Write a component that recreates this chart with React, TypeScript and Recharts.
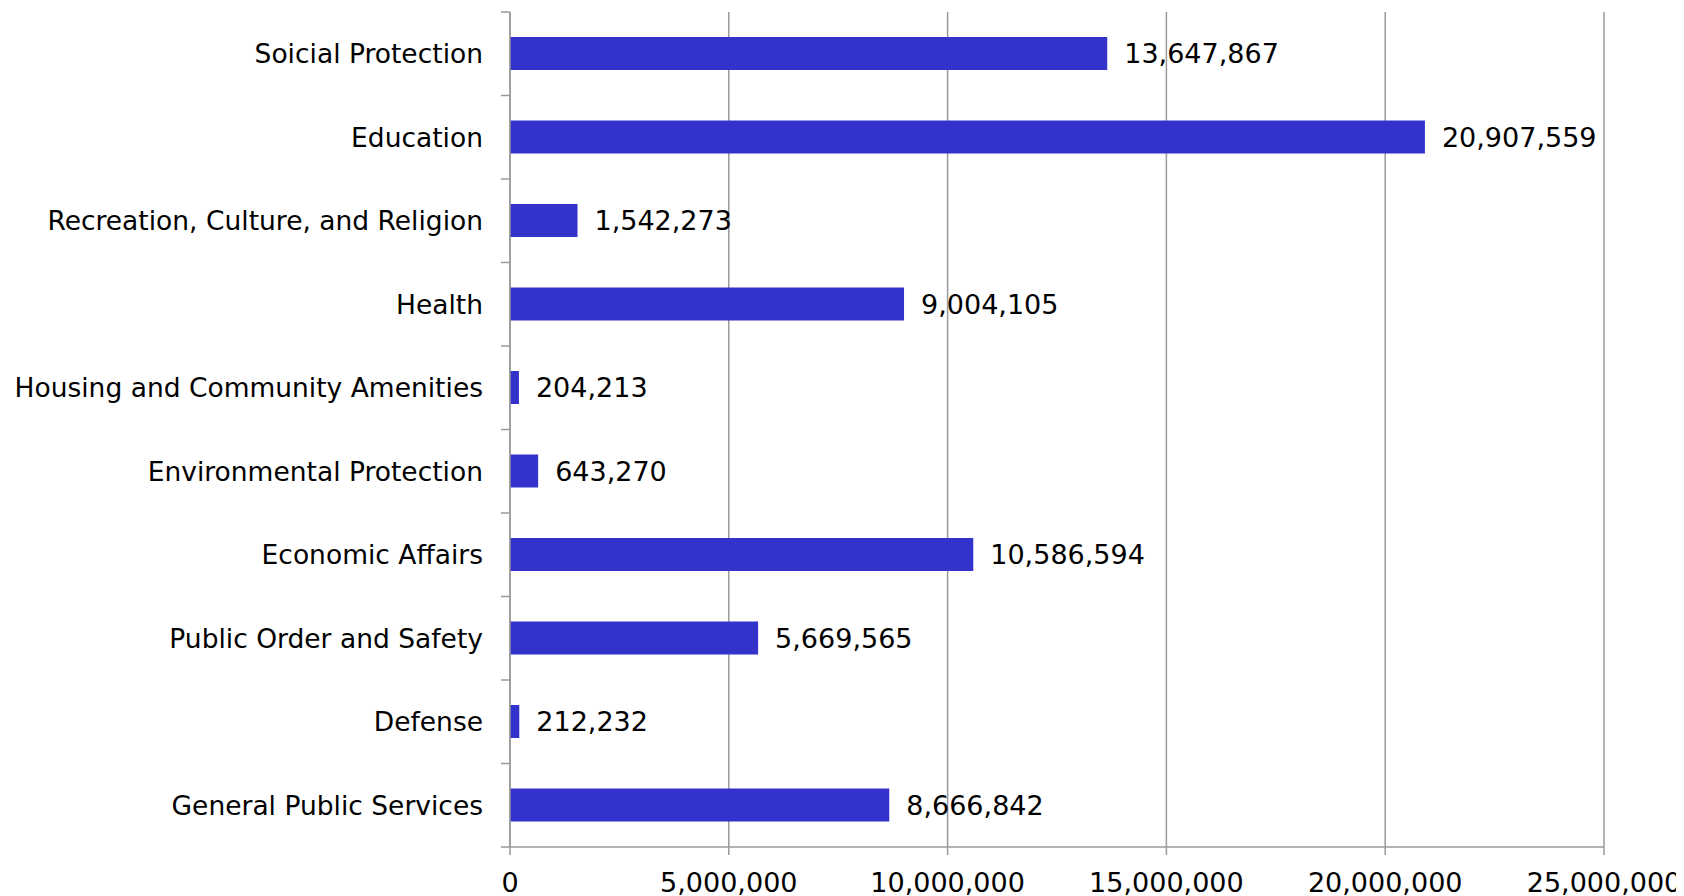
import { BarChart, Bar, XAxis, YAxis, CartesianGrid, LabelList } from "recharts";

const categories = [
  "Soicial Protection",
  "Education",
  "Recreation, Culture, and Religion",
  "Health",
  "Housing and Community Amenities",
  "Environmental Protection",
  "Economic Affairs",
  "Public Order and Safety",
  "Defense",
  "General Public Services",
];

const values = [
  13647867, 20907559, 1542273, 9004105, 204213, 643270, 10586594, 5669565,
  212232, 8666842,
];

const xTicks = [0, 5000000, 10000000, 15000000, 20000000, 25000000];

const data = categories.map((name, i) => ({ name, value: values[i] }));

const fmt = (v: number) => Number(v).toLocaleString("en-US");

const GRAY = "#9a9a9a";
const FONT = 27;

// one-line label plus tick marks on the band edges (payload.offset = half band)
const CategoryTick = (props: any) => {
  const { x, y, payload, index } = props;
  const half = payload.offset || 0;
  return (
    <g>
      <line x1={x - 9} x2={x} y1={y - half} y2={y - half} stroke={GRAY} strokeWidth={1.5} />
      {index === categories.length - 1 && (
        <line x1={x - 9} x2={x} y1={y + half} y2={y + half} stroke={GRAY} strokeWidth={1.5} />
      )}
      <text
        x={x - 27}
        y={y}
        dy="0.355em"
        textAnchor="end"
        fontSize={26.5}
        fill="#000"
      >
        {payload.value}
      </text>
    </g>
  );
};

const App = () => {
  return (
    <div style={{ fontFamily: "'DejaVu Sans', Verdana, sans-serif" }}>
      <BarChart
        width={1676}
        height={888}
        data={data}
        layout="vertical"
        margin={{ top: 4, right: 80, bottom: 9, left: 501 }}
      >
        <CartesianGrid horizontal={false} stroke={GRAY} strokeWidth={1.5} />
        <XAxis
          type="number"
          domain={[0, 25000000]}
          ticks={xTicks}
          tickFormatter={fmt}
          interval={0}
          height={40}
          tickSize={8}
          tickMargin={18}
          axisLine={{ stroke: GRAY, strokeWidth: 1.5 }}
          tickLine={{ stroke: GRAY, strokeWidth: 1.5 }}
          tick={{ fontSize: FONT, fill: "#000" }}
        />
        <YAxis
          type="category"
          dataKey="name"
          width={1}
          interval={0}
          axisLine={{ stroke: GRAY, strokeWidth: 1.5 }}
          tickLine={false}
          tickSize={0}
          tickMargin={0}
          tick={<CategoryTick />}
        />
        <Bar
          dataKey="value"
          fill="#3333CC"
          barSize={33}
          isAnimationActive={false}
        >
          <LabelList
            dataKey="value"
            position="right"
            offset={17}
            formatter={fmt}
            style={{ fontSize: FONT, fill: "#000" }}
          />
        </Bar>
      </BarChart>
    </div>
  );
};

export default App;
